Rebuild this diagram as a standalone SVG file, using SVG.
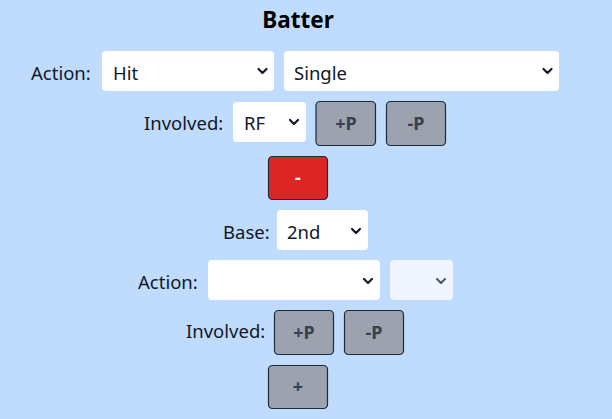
<svg xmlns="http://www.w3.org/2000/svg" width="612" height="419" viewBox="0 0 612 419">
<style>
text{font-family:"Noto Sans","Open Sans","DejaVu Sans",sans-serif;}
.lbl{font-size:18.5px;fill:#111827;}
.sel{fill:#ffffff;}
.dis{fill:#eff6ff;}
.stxt{font-size:18.5px;fill:#111827;}
.chev{fill:none;stroke:#111827;stroke-width:2.2;stroke-linecap:round;stroke-linejoin:round;}
.chevd{fill:none;stroke:#4b5563;stroke-width:2;stroke-linecap:round;stroke-linejoin:round;}
.btn{fill:#9ca3af;stroke:#1f2937;stroke-width:1.2;}
.btxt{font-size:18px;font-weight:bold;fill:#374151;text-anchor:middle;}
.red{fill:#dc2626;stroke:#1f2937;stroke-width:1.2;}
.rtxt{font-size:18px;font-weight:bold;fill:#ffffff;text-anchor:middle;}
</style>
<rect x="0" y="0" width="612" height="419" fill="#bfdbfe"/>
<g id="title"><text x="298" y="28" text-anchor="middle" style="font-size:22.5px;font-weight:bold;fill:#000">Batter</text></g>

<g id="row-action1">
<text class="lbl" x="31" y="80">Action:</text>
<rect class="sel" x="102" y="51" width="172" height="40" rx="4"/>
<text class="stxt" x="113" y="80">Hit</text>
<path class="chev" d="M258.5 69 L262.5 73 L266.5 69"/>
<rect class="sel" x="284" y="51" width="275" height="40" rx="4"/>
<text class="stxt" x="294" y="80">Single</text>
<path class="chev" d="M543.5 69 L547.5 73 L551.5 69"/>
</g>

<g id="row-involved1">
<text class="lbl" x="144" y="130">Involved:</text>
<rect class="sel" x="233" y="102" width="73" height="40" rx="4"/>
<text class="stxt" x="244" y="130">RF</text>
<path class="chev" d="M290 120 L294 124 L298 120"/>
<rect class="btn" x="316" y="101.5" width="59.5" height="44" rx="4"/>
<text class="btxt" x="346" y="130">+P</text>
<rect class="btn" x="386.5" y="101.5" width="59" height="44" rx="4"/>
<text class="btxt" x="416" y="130">-P</text>
</g>

<g id="remove-button">
<rect class="red" x="268.5" y="156.5" width="59" height="43" rx="4"/>
<text class="rtxt" x="298" y="184">-</text>
</g>

<g id="row-base">
<text class="lbl" x="223" y="239">Base:</text>
<rect class="sel" x="277" y="210" width="91" height="40" rx="4"/>
<text class="stxt" x="287" y="239">2nd</text>
<path class="chev" d="M352 229 L356 233 L360 229"/>
</g>

<g id="row-action2">
<text class="lbl" x="138" y="289">Action:</text>
<rect class="sel" x="208" y="260" width="172" height="40" rx="4"/>
<path class="chev" d="M364 279 L368 283 L372 279"/>
<rect class="dis" x="390" y="260" width="63" height="40" rx="4"/>
<path class="chevd" d="M437 279 L441 283 L445 279"/>
</g>

<g id="row-involved2">
<text class="lbl" x="186" y="338">Involved:</text>
<rect class="btn" x="274.5" y="310.5" width="59" height="44" rx="4"/>
<text class="btxt" x="304" y="339">+P</text>
<rect class="btn" x="344.5" y="310.5" width="59" height="44" rx="4"/>
<text class="btxt" x="374" y="339">-P</text>
</g>

<g id="add-button">
<rect class="btn" x="268.5" y="365.5" width="59" height="43" rx="4"/>
<text class="btxt" x="298" y="393">+</text>
</g>
<g id="connectors"></g>
</svg>
